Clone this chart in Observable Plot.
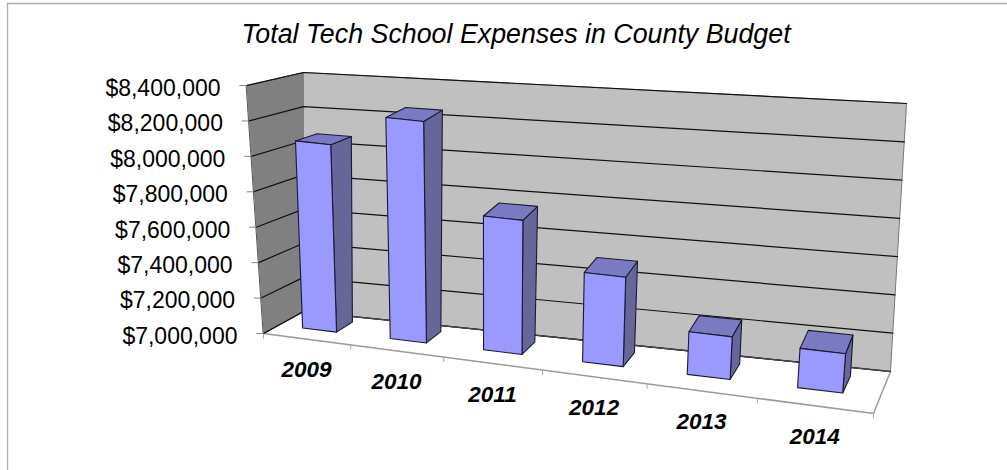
<!DOCTYPE html>
<html><head><meta charset="utf-8">
<script src="https://cdn.jsdelivr.net/npm/d3@7"></script>
<script src="https://cdn.jsdelivr.net/npm/@observablehq/plot@0.6"></script>
<style>html,body{margin:0;padding:0;background:#fff}</style>
</head><body><div id="chart"></div>
<script>
const titleText = "Total Tech School Expenses in County Budget";
const years = ["2009","2010","2011","2012","2013","2014"];
const values = [8070000,8260000,7760000,7505000,7240000,7220000];
const yTicks = [7000000,7200000,7400000,7600000,7800000,8000000,8200000,8400000];

const vMin = 7000000, vMax = 8400000, nCat = years.length;
// Camera: the eight corners of the chart box, in scale units (category, dollars)
const cam = {
  flb:[0,7000000],      frb:[6,6548387],
  blb:[0.393,7124194],  brb:[6.167,6785484],
  flt:[-0.167,8400000], frt:[6.216,7900000],
  blt:[0.393,8473387],  brt:[6.325,8298387]
};
const warp = t => 0.83*t + 0.17*t*t;   // foreshortening along the category axis
const mix = (a,b,t) => [a[0]+(b[0]-a[0])*t, a[1]+(b[1]-a[1])*t];
function P(cat, depth, val){
  const t = warp(cat/nCat), h = (val-vMin)/(vMax-vMin);
  const bot = mix(mix(cam.flb,cam.frb,t), mix(cam.blb,cam.brb,t), depth);
  const top = mix(mix(cam.flt,cam.frt,t), mix(cam.blt,cam.brt,t), depth);
  const p = mix(bot,top,h);
  return {x:p[0], y:p[1]};
}
const poly = (id, pts) => pts.map(p => ({id, ...P(...p)}));

const barL = 0.285, barR = 0.68, d0 = 0.38, d1 = 0.80;
const front=[], side=[], topFace=[];
years.forEach((yr,i)=>{
  const a=i+barL, b=i+barR, v=values[i];
  front.push(...poly(yr,[[a,d0,vMin],[b,d0,vMin],[b,d0,v],[a,d0,v]]));
  side.push(...poly(yr,[[b,d0,vMin],[b,d1,vMin],[b,d1,v],[b,d0,v]]));
  topFace.push(...poly(yr,[[a,d0,v],[b,d0,v],[b,d1,v],[a,d1,v]]));
});
const leftWall = poly("l",[[0,0,vMin],[0,1,vMin],[0,1,vMax],[0,0,vMax]]);
const backWall = poly("b",[[0,1,vMin],[nCat,1,vMin],[nCat,1,vMax],[0,1,vMax]]);
const floor = poly("f",[[0,0,vMin],[nCat,0,vMin],[nCat,1,vMin],[0,1,vMin]]);
const floorBack = poly("fb",[[0,1,vMin],[nCat,1,vMin]]);
const grid = yTicks.flatMap(v => poly(v,[[0,0,v],[0,1,v],[nCat,1,v]]));
const labelsY = yTicks.map(v => ({v, ...P(0,0,v)}));
const catTicks = d3.range(nCat+1).map(i => P(i,0,vMin));
const labelsX = years.map((yr,i)=>({yr, ...P(i+0.5,0,vMin)}));

const plot = Plot.plot({
  width:1007, height:470,
  marginTop:3, marginLeft:7, marginRight:0, marginBottom:0,
  x:{domain:[0,6], range:[263,873], axis:null},
  y:{domain:[7000000,8400000], range:[333,85], axis:null},
  marks:[
    Plot.frame({anchor:"left",stroke:"#b0b0b0",strokeWidth:1.3}),
    Plot.frame({anchor:"top",stroke:"#b0b0b0",strokeWidth:1.3}),
    Plot.line(floor,{x:"x",y:"y",z:"id",fill:"#fff",stroke:"#9a9a9a",curve:"linear-closed",strokeWidth:1.5}),
    Plot.line(leftWall,{x:"x",y:"y",z:"id",fill:"#808080",stroke:"#555",curve:"linear-closed",strokeWidth:1}),
    Plot.line(backWall,{x:"x",y:"y",z:"id",fill:"#c0c0c0",stroke:"#777",curve:"linear-closed",strokeWidth:1}),
    Plot.line(grid,{x:"x",y:"y",z:"id",stroke:"#111",strokeWidth:1.2}),
    Plot.line(floorBack,{x:"x",y:"y",z:"id",stroke:"#444",strokeWidth:1.4}),
    Plot.link(labelsY,{x1:"x",y1:"y",x2:d=>d.x-0.07,y2:"y",stroke:"#888"}),
    Plot.link(catTicks,{x1:"x",y1:"y",x2:"x",y2:d=>d.y-28000,stroke:"#aaa"}),
    Plot.line(side,{x:"x",y:"y",z:"id",fill:"#666699",stroke:"#1a1a33",curve:"linear-closed",strokeWidth:1.1}),
    Plot.line(topFace,{x:"x",y:"y",z:"id",fill:"#7a7ac2",stroke:"#1a1a33",curve:"linear-closed",strokeWidth:1.1}),
    Plot.line(front,{x:"x",y:"y",z:"id",fill:"#9999ff",stroke:"#1a1a33",curve:"linear-closed",strokeWidth:1.1}),
    Plot.text(labelsY,{x:"x",y:"y",text:d=>"$"+d3.format(",")(d.v),textAnchor:"end",dx:-26,dy:3,fontSize:23,fontFamily:"Liberation Sans",fill:"#000"}),
    Plot.text(labelsX,{x:"x",y:"y",text:"yr",dy:31,fontSize:22.5,fontWeight:"bold",fontStyle:"italic",fontFamily:"Liberation Sans",fill:"#000"}),
    Plot.text([titleText],{frameAnchor:"top",lineAnchor:"middle",dy:31,dx:8.5,fontSize:26.8,fontStyle:"italic",fontFamily:"Liberation Sans",fill:"#000"})
  ]
});
document.getElementById("chart").append(plot);
</script></body></html>
